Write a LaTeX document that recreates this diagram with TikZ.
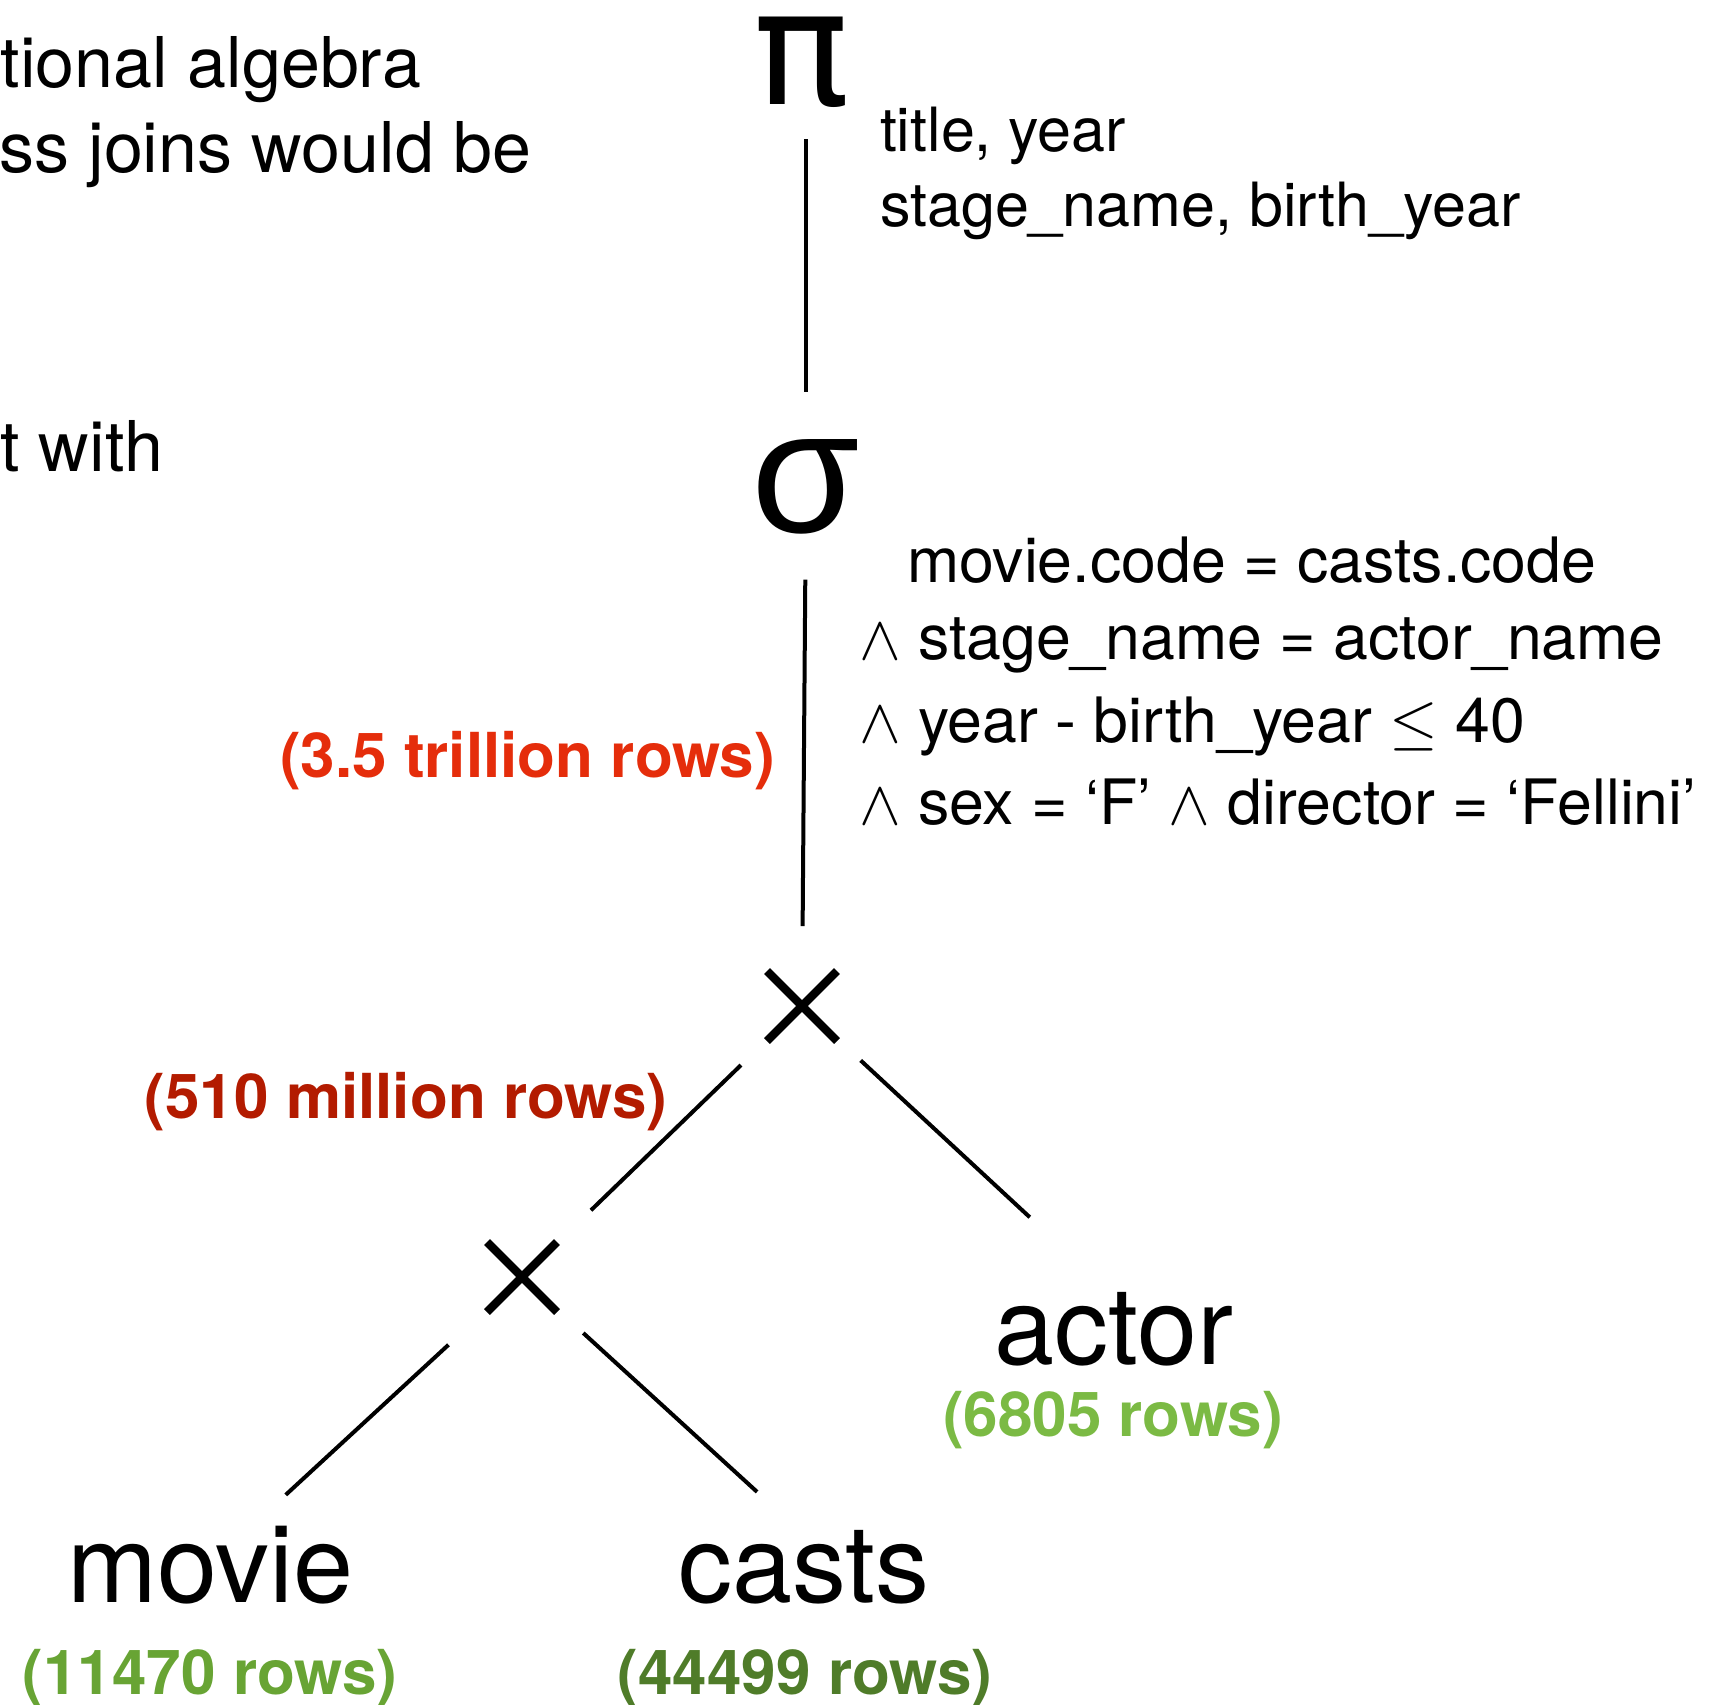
\RequirePackage{fix-cm}
\documentclass[tikz,border=0pt]{standalone}
\usepackage{fontspec}
\setmainfont{TeX Gyre Heros}
\newfontfamily\greekfont{Liberation Sans}
\newfontfamily\pifont{DejaVu Sans}

\definecolor{hugered}{HTML}{E52D0B}
\definecolor{bigred}{HTML}{B31B00}
\definecolor{lightgreen}{HTML}{7BBA44}
\definecolor{midgreen}{HTML}{68A434}
\definecolor{darkgreen}{HTML}{4F7C29}

\begin{document}
\begin{tikzpicture}[
    x=0.5pt, y=-0.5pt,
    every node/.style={inner sep=0pt, outer sep=0pt},
    op/.style={font=\greekfont\fontsize{88}{88}\selectfont},
    prod/.style={circle, minimum size=80pt, path picture={
        \draw[line width=4.1pt] (path picture bounding box.center)
            ++(-17.5pt,-17.5pt) -- ++(35pt,35pt)
            ++(-35pt,0pt) -- ++(35pt,-35pt);}},
    rel/.style={font=\fontsize{54}{54}\selectfont},
    rows/.style={font=\bfseries\fontsize{31}{31}\selectfont},
    args/.style={font=\fontsize{31.3}{31.3}\selectfont},
    prose/.style={font=\fontsize{35}{35}\selectfont},
    edge/.style={line width=2pt},
]
    \useasboundingbox (0,0) rectangle (1711,1704);
    \clip (0,0) rectangle (1711,1704);

    % text running in from the left
    \node[prose, anchor=base west] (prose1) at (1,87) {tional algebra};
    \node[prose, anchor=base west] (prose2) at (-1,172) {ss joins would be};
    \node[prose, anchor=base west] (prose3) at (0,471) {t with};

    % operator tree
    \node[op, font=\pifont\fontsize{80}{80}\selectfont, text height=43pt, text depth=0pt,
          anchor=base] (pi) at (802,104) {π};
    \node[op, anchor=base] (sigma) at (806,532) {σ};
    \node[prod] (xtop) at (802,1006) {};
    \node[prod] (xlow) at (522,1277) {};
    \node[rel, anchor=base] (actor) at (1114,1364) {actor};
    \node[rel, anchor=base] (movie) at (210,1602) {movie};
    \node[rel, anchor=base] (casts) at (804,1602) {casts};

    % projection list
    \node[args, font=\fontsize{30.5}{30.5}\selectfont, anchor=base west] (proj1) at (880,151) {title, year};
    \node[args, font=\fontsize{30.5}{30.5}\selectfont, anchor=base west] (proj2) at (880,226) {stage\_name, birth\_year};

    % selection predicate
    \node[args, anchor=base west] (cond1) at (907,582) {movie.code = casts.code};
    \node[args, anchor=base west] (cond2) at (859,659) {$\wedge$ stage\_name = actor\_name};
    \node[args, anchor=base west] (cond3) at (859,742) {$\wedge$ year - birth\_year $\leq$ 40};
    \node[args, anchor=base west] (cond4) at (859,824) {$\wedge$ sex = ‘F’ $\wedge$ director = ‘Fellini’};

    % row counts
    \node[rows, text=hugered, anchor=base east] (nsel) at (775,777) {(3.5 trillion rows)};
    \node[rows, text=bigred, anchor=base] (nxlow) at (406,1118) {(510 million rows)};
    \node[rows, text=lightgreen, anchor=base] (nactor) at (1113,1436) {(6805 rows)};
    \node[rows, text=midgreen, anchor=base] (nmovie) at (210,1694) {(11470 rows)};
    \node[rows, text=darkgreen, anchor=base] (ncasts) at (805,1694) {(44499 rows)};

    % edges
    \draw[edge, shorten <=17.5pt, shorten >=23.5pt] (pi.south -| sigma) -- (sigma);
    \draw[edge, shorten <=23pt] (sigma) -- (xtop);
    \draw[edge, shorten <=2.5pt, shorten >=8pt] (xtop) -- (xlow);
    \draw[edge, shorten >=82pt] (xtop) -- ([xshift=18pt]actor.center);
    \draw[edge, shorten <=10pt, shorten >=51.5pt] (xlow) -- (movie.center);
    \draw[edge, shorten <=1.5pt, shorten >=55.5pt] (xlow) -- ([xshift=17.5pt]casts.center);
\end{tikzpicture}
\end{document}
